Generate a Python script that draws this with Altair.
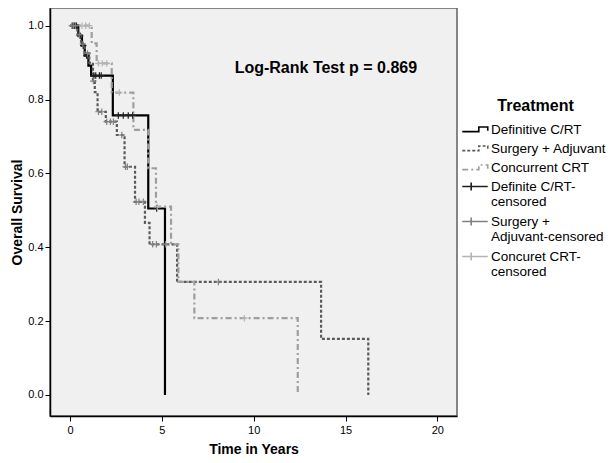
import altair as alt
import pandas as pd

# ---- Kaplan-Meier step values ----
def_t = [0, 0.45, 0.65, 0.8, 1.0, 1.15, 2.33, 4.26, 5.17]
def_s = [1.0, 0.973, 0.946, 0.919, 0.892, 0.865, 0.757, 0.505, 0.0]

sur_t = [0, 0.4, 0.6, 0.8, 1.05, 1.25, 1.35, 1.5, 1.95, 2.55, 2.97, 3.54, 4.08, 4.33, 5.83, 13.67, 16.24]
sur_s = [1.0, 0.975, 0.95, 0.925, 0.90, 0.85, 0.82, 0.767, 0.740, 0.704, 0.618, 0.523, 0.466, 0.408, 0.306, 0.152, 0.0]

con_t = [0, 1.18, 1.45, 2.27, 3.45, 4.26, 4.68, 5.5, 5.9, 6.77, 12.4]
con_s = [1.0, 0.952, 0.898, 0.819, 0.718, 0.614, 0.51, 0.408, 0.306, 0.208, 0.0]

# ---- censored observations ----
def_ct = [0.15, 0.25, 0.35, 0.55, 0.72, 0.9, 1.3, 1.4, 1.6, 1.7, 2.63, 2.9, 3.17, 3.41, 4.72]
def_cs = [1.0, 1.0, 1.0, 0.973, 0.946, 0.919, 0.865, 0.865, 0.865, 0.865, 0.757, 0.757, 0.757, 0.757, 0.505]

sur_ct = [0.1, 0.2, 0.3, 0.5, 0.7, 0.95, 1.27, 1.55, 1.73, 2.0, 2.2, 2.36, 2.82, 3.02, 3.12, 3.6, 3.75, 3.99, 4.5, 4.7, 5.2, 8.08]
sur_cs = [1.0, 1.0, 1.0, 0.975, 0.95, 0.925, 0.85, 0.767, 0.767, 0.74, 0.74, 0.74, 0.704, 0.618, 0.618, 0.523, 0.523, 0.523, 0.408, 0.408, 0.408, 0.306]

con_ct = [0.65, 0.85, 1.05, 1.55, 1.75, 2.0, 2.68, 4.75, 9.49]
con_cs = [1.0, 1.0, 1.0, 0.898, 0.898, 0.898, 0.819, 0.51, 0.208]

groups = ["Definitive C/RT", "Surgery + Adjuvant", "Concurrent CRT",
          "Definite C/RT-censored", "Surgery + Adjuvant-censored", "Concuret CRT-censored"]
colors = ["#000000", "#5a5a5a", "#9e9e9e", "#1e1e1e", "#808080", "#b4b4b4"]
dashes = [[1, 0], [3, 2], [6, 3, 2, 3], [1, 0], [1, 0], [1, 0]]

note_t = [13.93]
note_s = [0.885]
note_txt = ["Log-Rank Test p = 0.869"]

x_ticks = [0, 5, 10, 15, 20]
y_ticks = [0.0, 0.2, 0.4, 0.6, 0.8, 1.0]

# ---- tables ----
line_df = pd.concat([
    pd.DataFrame({"t": def_t, "s": def_s, "Treatment": groups[0]}),
    pd.DataFrame({"t": sur_t, "s": sur_s, "Treatment": groups[1]}),
    pd.DataFrame({"t": con_t, "s": con_s, "Treatment": groups[2]}),
], ignore_index=True)

cens_df = pd.concat([
    pd.DataFrame({"t": def_ct, "s": def_cs, "Treatment": groups[3]}),
    pd.DataFrame({"t": sur_ct, "s": sur_cs, "Treatment": groups[4]}),
    pd.DataFrame({"t": con_ct, "s": con_cs, "Treatment": groups[5]}),
], ignore_index=True)

note_df = pd.DataFrame({"t": note_t, "s": note_s, "txt": note_txt})

FONT = "Liberation Sans"
PLUS = "M-1,0H1M0,-1V1"
STEP = "M-1.5,0.25H0.45V-0.3H1.5V0.15"
LEGCROSS = "M-1.5,0H1.5M-0.45,-0.47V0.47"
shapes = [STEP, STEP, STEP, LEGCROSS, LEGCROSS, LEGCROSS]

x_enc = alt.X("t:Q", scale=alt.Scale(domain=[-1.09, 21.07], nice=False, zero=False),
              axis=alt.Axis(values=x_ticks, title="Time in Years", grid=False, format="d",
                            tickSize=5, labelPadding=3, titlePadding=7))
y_enc = alt.Y("s:Q", scale=alt.Scale(domain=[-0.057, 1.048], nice=False, zero=False),
              axis=alt.Axis(values=y_ticks, title="Overall Survival", grid=False, format=".1f",
                            tickSize=5, labelPadding=2, titlePadding=3))

color_sc = alt.Scale(domain=groups, range=colors)
dash_sc = alt.Scale(domain=groups, range=dashes)

label_expr = ("datum.label == 'Definite C/RT-censored' ? ['Definite C/RT-', 'censored'] : "
              "datum.label == 'Surgery + Adjuvant-censored' ? ['Surgery +', 'Adjuvant-censored'] : "
              "datum.label == 'Concuret CRT-censored' ? ['Concuret CRT-', 'censored'] : datum.label")

legend = alt.Legend(title="Treatment", orient="none", legendX=415.5, legendY=90,
                    titleFont=FONT, titleFontSize=16, titleFontWeight="bold", titleAnchor="middle",
                    titleColor="black", titlePadding=6,
                    labelFont=FONT, labelFontSize=13.5, labelColor="black", labelLimit=300,
                    labelExpr=label_expr, labelOffset=6.5,
                    symbolSize=289, symbolStrokeWidth=1.6, rowPadding=3, padding=0)

lines = alt.Chart(line_df).mark_line(interpolate="step-after", strokeWidth=2.2).encode(
    x=x_enc, y=y_enc,
    color=alt.Color("Treatment:N", scale=color_sc, legend=None),
    strokeDash=alt.StrokeDash("Treatment:N", scale=dash_sc, legend=None),
)

crosses = alt.Chart(cens_df).mark_point(shape=PLUS, filled=False, size=42, strokeWidth=1.2, opacity=1).encode(
    x="t:Q", y="s:Q",
    color=alt.Color("Treatment:N", scale=color_sc, legend=None),
)

legend_layer = alt.Chart(line_df).transform_filter("false").mark_point(filled=False, opacity=1).encode(
    x="t:Q", y="s:Q",
    color=alt.Color("Treatment:N", scale=color_sc, legend=legend),
    shape=alt.Shape("Treatment:N", scale=alt.Scale(domain=groups, range=shapes), legend=legend),
    strokeDash=alt.StrokeDash("Treatment:N", scale=dash_sc, legend=legend),
)

note = alt.Chart(note_df).mark_text(font=FONT, fontSize=16, fontWeight="bold", color="black",
                                    align="center", baseline="middle").encode(
    x="t:Q", y="s:Q", text="txt:N")

chart = alt.layer(lines, crosses, legend_layer, note).resolve_legend(
    color="independent", strokeDash="independent", shape="independent"
).properties(
    width=407, height=408,
    autosize=alt.AutoSizeParams(type="none"),
    padding={"left": 42, "top": 0, "right": 149, "bottom": 46},
    background="white",
).configure_view(
    fill="#f0f0f0", stroke="#606060", strokeWidth=1.5,
).configure_axis(
    labelFont=FONT, labelFontSize=11, labelColor="black",
    titleFont=FONT, titleFontSize=14, titleFontWeight="bold", titleColor="black",
    domainColor="black", domainWidth=1.5, tickColor="black", tickWidth=1,
)

chart.save("out.html", embed_options={"renderer": "svg", "actions": False})
